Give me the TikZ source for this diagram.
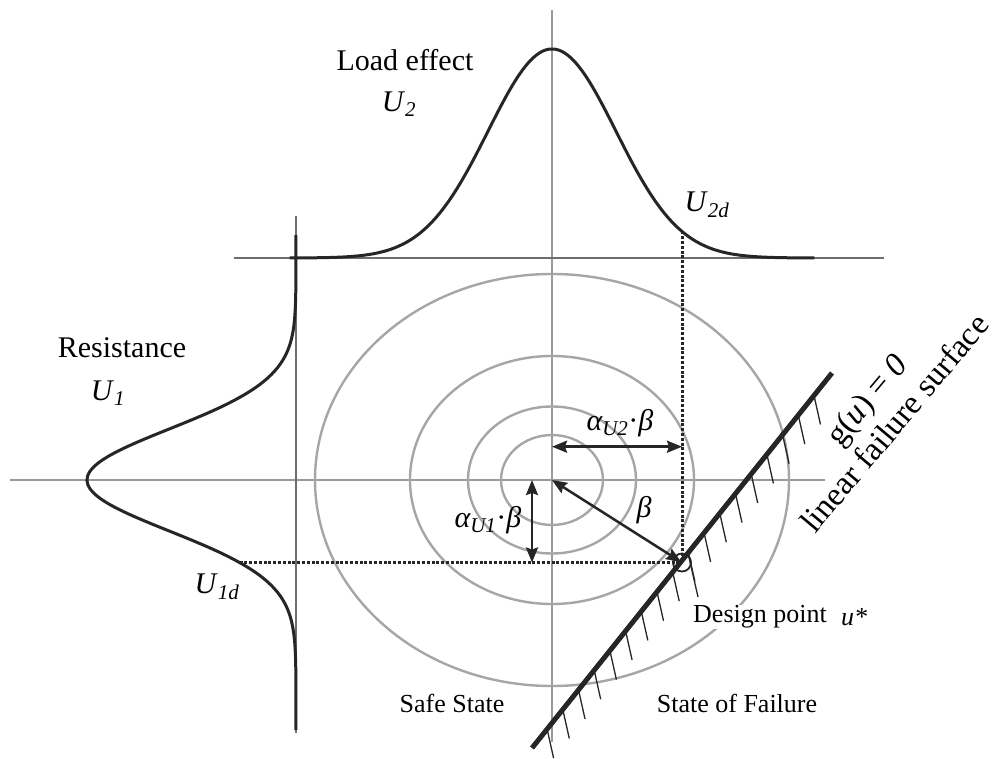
\documentclass[tikz,border=0pt]{standalone}
\usepackage{fontspec}
\setmainfont{Liberation Serif}
\usetikzlibrary{arrows.meta,positioning,calc}
\definecolor{axgray}{HTML}{9A9A9A}
\definecolor{axdark}{HTML}{6E6E6E}
\definecolor{elgray}{HTML}{A6A6A6}
\definecolor{ink}{HTML}{262626}
\newcommand{\lsub}[1]{\textsubscript{\itshape #1}}

\begin{document}
\begin{tikzpicture}[x=1pt,y=-1pt,font=\fontsize{30}{34}\selectfont]
    \tikzstyle{ax}=[draw=axgray,line width=2pt]
    \tikzstyle{axd}=[draw=axdark,line width=1.6pt]
    \tikzstyle{el}=[draw=elgray,line width=2.4pt]
    \tikzstyle{pdf}=[draw=ink,line width=3pt]
    \tikzstyle{dots}=[draw=ink,line width=3pt,dash pattern=on 3pt off 1.8pt]
    \tikzstyle{dim}=[draw=ink,line width=2.5pt,{Stealth[length=15pt,width=12pt,inset=2pt]}-{Stealth[length=15pt,width=12pt,inset=2pt]}]
    \tikzstyle{hatch}=[draw=ink,line width=1.3pt]
    \tikzstyle{lbl}=[inner sep=1pt]
    \tikzstyle{small}=[inner sep=1pt,font=\fontsize{26}{30}\selectfont]
    \tikzstyle{big}=[inner sep=0pt,align=center,font=\fontsize{33}{37}\selectfont,rotate=50]
    \path[fill=white] (0,0) rectangle (997,754);
    \coordinate (o)   at (552,480);
    \coordinate (dp)  at (682,562.5);
    \coordinate (u2d) at (682,231.4);
    \coordinate (u1d) at (239.5,562.5);
    \coordinate (fs0) at (532,748);
    \coordinate (fs1) at (832,373);
    % axes
    \draw[ax]  (10,480) -- (825,480);
    \draw[ax]  (552,10) -- (552,742);
    \draw[axd] (234,258) -- (884,258);
    \draw[axd] (296,216) -- (296,733);
    % contours
    \foreach \rx/\ry in {51/45,84/73.5,142/124,237/206}
      \draw[el] (o) ellipse[x radius=\rx,y radius=\ry];
    % marginal densities
    \draw[pdf] plot[domain=-4.1:4.1,samples=120,smooth] ({552+64*\x},{258-209*exp(-\x*\x/2)});
    \draw[pdf] plot[domain=-4.8:4.9,samples=120,smooth] ({296-209*exp(-\x*\x/2)},{480+51*\x});
    \draw[dots] (u2d) -- (dp);
    \draw[dots] (u1d) -- (dp);
    % failure surface
    \foreach \k in {0,...,17}{
      \pgfmathsetmacro{\t}{(282-15.7*\k)/300}
      \draw[hatch] ($(fs0)!\t!(fs1)$) -- ++(6.5,29);
    }
    \draw[hatch] ($(fs0)!0.52!(fs1)$) -- ++(10,44);
    \draw[draw=ink,line width=5pt] (fs0) -- (fs1);
    \node[draw=ink,circle,line width=1.8pt,minimum size=18pt,inner sep=0pt] (dpc) at (dp) {};
    % distances
    \coordinate (a2)  at (552,446.7);
    \coordinate (a2e) at (682,446.7);
    \coordinate (a1)  at (532,480);
    \coordinate (a1e) at (532,562.5);
    \draw[dim] (a2) -- (a2e);
    \draw[dim] (a1) -- (a1e);
    \draw[dim,shorten >=1pt] (o) -- (dp);
    % labels
    \node[lbl] (load) at (405,60)  {Load effect};
    \node[lbl] (u2)   at (399,104) {\textit{U}\lsub{2}};
    \node[lbl] (res)  at (122,348) {Resistance};
    \node[lbl] (u1)   at (108,393) {\textit{U}\lsub{1}};
    \node[lbl] (u1l)  at (217,587) {\textit{U}\lsub{1d}};
    \node[lbl] (u2l)  at (707,205) {\textit{U}\lsub{2d}};
    \node[lbl] (ab2)  at (620,423) {{\itshape α}\lsub{U2}·{\itshape β}};
    \node[lbl] (ab1)  at (488,520) {{\itshape α}\lsub{U1}·{\itshape β}};
    \node[lbl] (bet)  at (644,510) {\itshape β};
    \node[small,fill=white] (dpt) at (760,617) {Design point};
    \node[small,right=12pt of dpt] (ustar) {\textit{u*}};
    \node[small] (safe) at (452,703) {Safe State};
    \node[small] (fail) at (737,703) {State of Failure};
    \node[big] (gfs) at (880,411) {g(\textit{u}) = \textit{0}\\linear failure surface};
  \end{tikzpicture}
\end{document}
